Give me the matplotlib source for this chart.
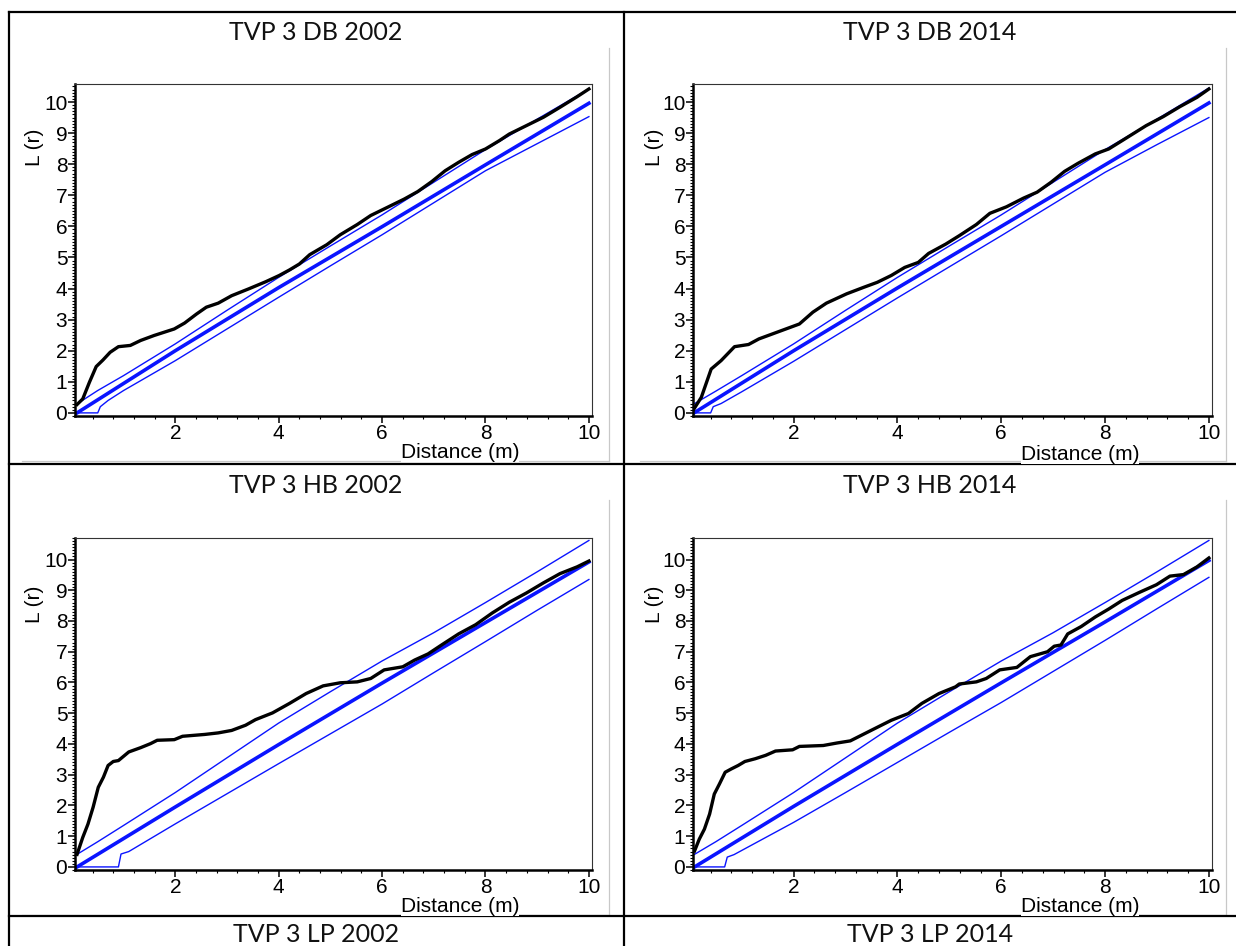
import matplotlib
matplotlib.use("Agg")
import matplotlib.pyplot as plt
from matplotlib.ticker import MultipleLocator, AutoMinorLocator

# Ripley's L(r): observed curve, expected mean and simulation envelope per plot
titles = ["TVP 3 DB 2002", "TVP 3 DB 2014", "TVP 3 HB 2002", "TVP 3 HB 2014"]
bottom_titles = ["TVP 3 LP 2002", "TVP 3 LP 2014"]

# --- TVP 3 DB 2002 ---
db02_r = [0.1, 0.21, 0.34, 0.47, 0.6, 0.74, 0.9, 1.13, 1.33, 1.59, 1.98, 2.18, 2.41, 2.6, 2.83,
          3.09, 3.42, 3.75, 4.01, 4.21, 4.4, 4.6, 4.93, 5.19, 5.52, 5.78, 6.1, 6.43, 6.69, 6.96,
          7.22, 7.48, 7.74, 8.0, 8.27, 8.46, 8.79, 9.12, 9.44, 9.77, 10.0]
db02_L = [0.27, 0.45, 0.99, 1.49, 1.7, 1.95, 2.13, 2.17, 2.33, 2.49, 2.7, 2.89, 3.18, 3.4, 3.53,
          3.77, 3.99, 4.22, 4.42, 4.6, 4.79, 5.09, 5.41, 5.73, 6.06, 6.35, 6.61, 6.88, 7.12, 7.44,
          7.79, 8.06, 8.31, 8.49, 8.76, 8.97, 9.24, 9.51, 9.83, 10.17, 10.42]
db02_env_r = [0.1, 2, 4, 6, 8, 10]
db02_mean = [0.0, 2.0, 4.03, 5.99, 7.98, 9.96]
db02_up_r = [0.1, 0.5, 1, 2, 3, 4, 5, 6, 7, 8, 9, 10]
db02_up = [0.29, 0.72, 1.2, 2.22, 3.3, 4.36, 5.37, 6.37, 7.42, 8.47, 9.45, 10.42]
db02_lo_r = [0.1, 0.5, 0.55, 0.7, 1, 2, 3, 4, 5, 6, 7, 8, 9, 10]
db02_lo = [0.0, 0.0, 0.2, 0.4, 0.72, 1.68, 2.7, 3.72, 4.73, 5.73, 6.76, 7.79, 8.66, 9.53]

# --- TVP 3 DB 2014 ---
db14_r = [0.08, 0.22, 0.41, 0.6, 0.86, 1.13, 1.33, 1.85, 2.11, 2.37, 2.63, 3.02, 3.35, 3.61,
          3.88, 4.14, 4.4, 4.6, 4.93, 5.19, 5.52, 5.78, 6.1, 6.43, 6.69, 6.96, 7.22, 7.48, 7.81,
          8.07, 8.33, 8.79, 9.12, 9.44, 9.77, 10.0]
db14_L = [0.13, 0.5, 1.41, 1.68, 2.13, 2.2, 2.38, 2.7, 2.86, 3.24, 3.53, 3.83, 4.04, 4.2, 4.42,
          4.68, 4.84, 5.13, 5.43, 5.7, 6.06, 6.42, 6.63, 6.91, 7.1, 7.42, 7.77, 8.03, 8.33, 8.49,
          8.76, 9.24, 9.53, 9.85, 10.15, 10.42]
db14_env_r = [0.08, 2, 4, 6, 8, 10]
db14_mean = [0.0, 2.0, 4.02, 6.0, 7.98, 9.97]
db14_up_r = [0.08, 0.5, 1, 2, 3, 4, 5, 6, 7, 8, 9, 10]
db14_up = [0.29, 0.7, 1.2, 2.22, 3.3, 4.36, 5.37, 6.37, 7.42, 8.47, 9.45, 10.45]
db14_lo_r = [0.08, 0.4, 0.45, 0.6, 1, 2, 3, 4, 5, 6, 7, 8, 9, 10]
db14_lo = [0.0, 0.0, 0.2, 0.3, 0.68, 1.66, 2.68, 3.7, 4.7, 5.7, 6.72, 7.74, 8.63, 9.5]

# --- TVP 3 HB 2002 ---
hb02_r = [0.1, 0.21, 0.31, 0.41, 0.51, 0.61, 0.7, 0.8, 0.9, 1.1, 1.33, 1.52, 1.65, 1.98, 2.14,
          2.57, 2.83, 3.09, 3.36, 3.55, 3.88, 4.21, 4.53, 4.86, 5.19, 5.52, 5.78, 6.04, 6.4, 6.63,
          6.89, 7.15, 7.48, 7.81, 8.13, 8.46, 8.79, 9.12, 9.44, 9.77, 10.0]
hb02_L = [0.41, 0.96, 1.39, 1.94, 2.59, 2.92, 3.3, 3.43, 3.46, 3.74, 3.88, 4.01, 4.12, 4.14, 4.25,
          4.31, 4.36, 4.44, 4.61, 4.79, 5.01, 5.32, 5.64, 5.89, 5.99, 6.02, 6.13, 6.41, 6.51, 6.73,
          6.93, 7.22, 7.58, 7.88, 8.26, 8.61, 8.91, 9.24, 9.54, 9.76, 9.95]
hb02_env_r = [0.1, 2, 4, 6, 8, 10]
hb02_mean = [0.0, 1.95, 3.98, 5.98, 7.95, 9.92]
hb02_up_r = [0.1, 0.5, 1, 2, 3, 4, 5, 6, 7, 8, 9, 10]
hb02_up = [0.41, 0.82, 1.35, 2.42, 3.55, 4.68, 5.7, 6.7, 7.62, 8.6, 9.6, 10.62]
hb02_lo_r = [0.1, 0.9, 0.95, 1.1, 2, 3, 4, 5, 6, 7, 8, 9, 10]
hb02_lo = [0.0, 0.0, 0.42, 0.5, 1.4, 2.38, 3.36, 4.33, 5.3, 6.32, 7.33, 8.35, 9.35]

# --- TVP 3 HB 2014 ---
hb14_r = [0.09, 0.18, 0.28, 0.38, 0.47, 0.57, 0.68, 0.8, 0.93, 1.06, 1.26, 1.46, 1.65, 1.98,
          2.11, 2.57, 2.83, 3.09, 3.49, 3.88, 4.21, 4.47, 4.8, 5.12, 5.19, 5.52, 5.71, 5.97, 6.3,
          6.56, 6.89, 7.02, 7.15, 7.28, 7.54, 7.81, 8.07, 8.33, 8.66, 8.99, 9.25, 9.51, 9.77, 10.0]
hb14_L = [0.52, 0.9, 1.23, 1.72, 2.37, 2.7, 3.08, 3.19, 3.3, 3.43, 3.52, 3.63, 3.77, 3.81, 3.92,
          3.95, 4.03, 4.1, 4.44, 4.77, 4.99, 5.32, 5.64, 5.86, 5.95, 6.02, 6.13, 6.41, 6.49, 6.84,
          7.0, 7.18, 7.22, 7.58, 7.82, 8.13, 8.39, 8.67, 8.93, 9.18, 9.46, 9.51, 9.76, 10.05]
hb14_env_r = [0.09, 2, 4, 6, 8, 10]
hb14_mean = [0.0, 1.97, 3.99, 5.99, 7.97, 9.97]
hb14_up_r = [0.09, 0.5, 1, 2, 3, 4, 5, 6, 7, 8, 9, 10]
hb14_up = [0.41, 0.82, 1.35, 2.42, 3.55, 4.68, 5.7, 6.7, 7.62, 8.6, 9.6, 10.62]
hb14_lo_r = [0.09, 0.67, 0.72, 0.85, 2, 3, 4, 5, 6, 7, 8, 9, 10]
hb14_lo = [0.0, 0.0, 0.32, 0.4, 1.45, 2.42, 3.4, 4.38, 5.35, 6.36, 7.37, 8.4, 9.42]

W, H = 1236, 946
BLUE = "#0a14ff"
fig = plt.figure(figsize=(W / 100, H / 100), dpi=100)

# page layer in pixel coordinates: table grid, titles, axis captions
page = fig.add_axes([0, 0, 1, 1])
page.set_xlim(0, W)
page.set_ylim(H, 0)
page.axis("off")

# light grey edges of the pasted chart images
for x0, x1 in [(22, 609), (640, 1226)]:
    for y0, y1 in [(48, 461), (500, 915)]:
        page.plot([x1, x1], [y0, y1], color="#c8c8c8", lw=0.9)
        page.plot([x0, x1], [y1, y1], color="#c8c8c8", lw=0.9)

# table grid
for y in [12, 464, 916]:
    page.plot([9, W], [y, y], color="black", lw=1.6)
page.plot([9, 9], [12, H], color="black", lw=1.6)
page.plot([624, 624], [12, H], color="black", lw=1.6)

title_font = dict(family="Lato", fontsize=18, color="#111111", ha="center", va="center")
page.text(316, 32, titles[0], **title_font)
page.text(930, 32, titles[1], **title_font)
page.text(316, 485, titles[2], **title_font)
page.text(930, 485, titles[3], **title_font)
page.text(316, 934, bottom_titles[0], **title_font)
page.text(930, 934, bottom_titles[1], **title_font)

label_font = dict(family="Liberation Sans", fontsize=15, color="black")
for lx, ly in [(34, 147), (654, 147), (34, 604), (654, 604)]:
    page.text(lx, ly, "L (r)", rotation=90, ha="center", va="center", **label_font)
for dx, dy in [(460, 452), (1080, 454), (460, 906), (1080, 906)]:
    page.text(dx, dy, "Distance (m)", ha="center", va="center", zorder=5,
              bbox=dict(facecolor="white", edgecolor="none", pad=0.0), **label_font)

panels = [
    ((75, 84, 592, 416), (-0.1, 10.58), db02_r, db02_L, db02_env_r, db02_mean,
     db02_up_r, db02_up, db02_lo_r, db02_lo),
    ((693, 84, 1212, 416), (-0.1, 10.58), db14_r, db14_L, db14_env_r, db14_mean,
     db14_up_r, db14_up, db14_lo_r, db14_lo),
    ((75, 538, 592, 870), (-0.1, 10.7), hb02_r, hb02_L, hb02_env_r, hb02_mean,
     hb02_up_r, hb02_up, hb02_lo_r, hb02_lo),
    ((693, 538, 1212, 870), (-0.1, 10.7), hb14_r, hb14_L, hb14_env_r, hb14_mean,
     hb14_up_r, hb14_up, hb14_lo_r, hb14_lo),
]

for box, ylim, r, L, env_r, mean, up_r, up, lo_r, lo in panels:
    left, top, right, bottom = box
    ax = fig.add_axes([left / W, 1 - bottom / H, (right - left) / W, (bottom - top) / H])
    ax.plot(up_r, up, color=BLUE, lw=1.0)
    ax.plot(lo_r, lo, color=BLUE, lw=1.0)
    ax.plot(env_r, mean, color=BLUE, lw=2.6)
    ax.plot(r, L, color="black", lw=2.4)

    ax.set_xlim(0.06, 10.06)
    ax.set_ylim(*ylim)
    ax.set_xticks([2, 4, 6, 8, 10])
    ax.set_yticks(range(0, 11))
    ax.xaxis.set_minor_locator(MultipleLocator(0.4))
    ax.yaxis.set_minor_locator(AutoMinorLocator(10))
    ax.tick_params(which="major", length=5, width=1.1, labelsize=15, pad=0.5)
    ax.tick_params(which="minor", length=2.5, width=0.8)
    for lab in ax.get_xticklabels() + ax.get_yticklabels():
        lab.set_family("Liberation Sans")
    for side in ["left", "bottom"]:
        ax.spines[side].set_linewidth(1.8)
    for side in ["top", "right"]:
        ax.spines[side].set_linewidth(0.8)
        ax.spines[side].set_color("#333333")

fig.savefig("out.png", dpi=100)
